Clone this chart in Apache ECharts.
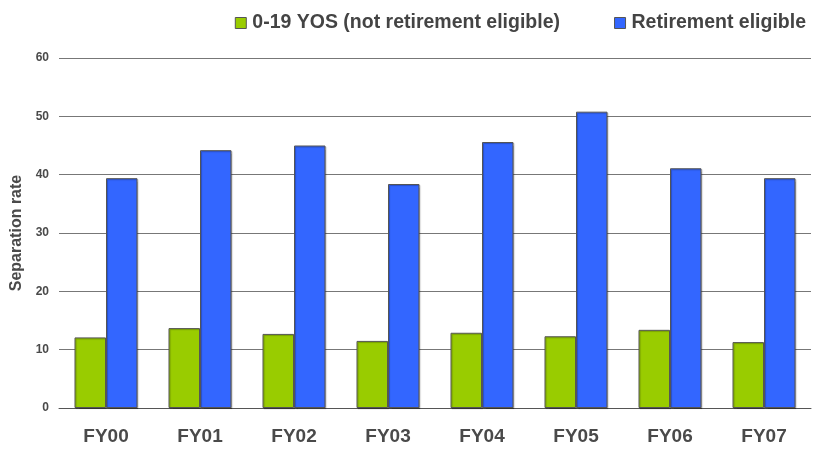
<!DOCTYPE html>
<html>
<head>
<meta charset="utf-8">
<script src="https://cdn.jsdelivr.net/npm/echarts@6/dist/echarts.min.js"></script>
<style>
  html, body { margin: 0; padding: 0; background: #fff; }
  #chart { width: 815px; height: 449px; }
</style>
</head>
<body>
<div id="chart"></div>
<script>
const categories = ['FY00', 'FY01', 'FY02', 'FY03', 'FY04', 'FY05', 'FY06', 'FY07']
const notEligible = [12.1, 13.7, 12.7, 11.5, 12.9, 12.3, 13.4, 11.3]
const eligible = [39.4, 44.2, 45.0, 38.4, 45.6, 50.8, 41.1, 39.4]
const seriesNames = ['0-19 YOS (not retirement eligible)', 'Retirement eligible']

const font = '"Liberation Sans", Arial, sans-serif'
const barStyle = color => ({
  color: color,
  borderColor: '#555',
  borderWidth: 1,
  shadowColor: 'rgba(0,0,0,0.25)',
  shadowOffsetX: 1,
  shadowOffsetY: 1,
  shadowBlur: 1
})

const chart = echarts.init(document.getElementById('chart'))
chart.setOption({
  animation: false,
  textStyle: { fontFamily: font },
  legend: {
    top: 8,
    right: 4,
    icon: 'rect',
    itemWidth: 11,
    itemHeight: 11,
    itemGap: 54,
    data: seriesNames,
    itemStyle: { borderColor: '#555', borderWidth: 1 },
    textStyle: { fontSize: 19.5, fontWeight: 'bold', color: '#444', fontFamily: font, padding: [0, 0, 0, 1] }
  },
  grid: { left: 59, right: 4, top: 58, bottom: 41 },
  xAxis: {
    type: 'category',
    data: categories,
    axisTick: { show: false },
    axisLine: { lineStyle: { color: '#555', width: 1 } },
    axisLabel: { fontSize: 19, fontWeight: 'bold', color: '#4a4a4a', margin: 19 }
  },
  yAxis: {
    type: 'value',
    min: 0,
    max: 60,
    interval: 10,
    name: 'Separation rate',
    nameLocation: 'middle',
    nameGap: 31,
    nameTextStyle: { fontSize: 16, fontWeight: 'bold', color: '#4a4a4a' },
    axisLine: { show: false },
    axisTick: { show: false },
    axisLabel: { fontSize: 12, fontWeight: 'bold', color: '#4a4a4a', margin: 10 },
    splitLine: { lineStyle: { color: '#777', width: 1 } }
  },
  series: [
    {
      name: seriesNames[0],
      type: 'bar',
      data: notEligible,
      barGap: '0%',
      barCategoryGap: '33%',
      itemStyle: barStyle('#99cc00')
    },
    {
      name: seriesNames[1],
      type: 'bar',
      data: eligible,
      itemStyle: barStyle('#3366ff')
    }
  ]
})
</script>
</body>
</html>
